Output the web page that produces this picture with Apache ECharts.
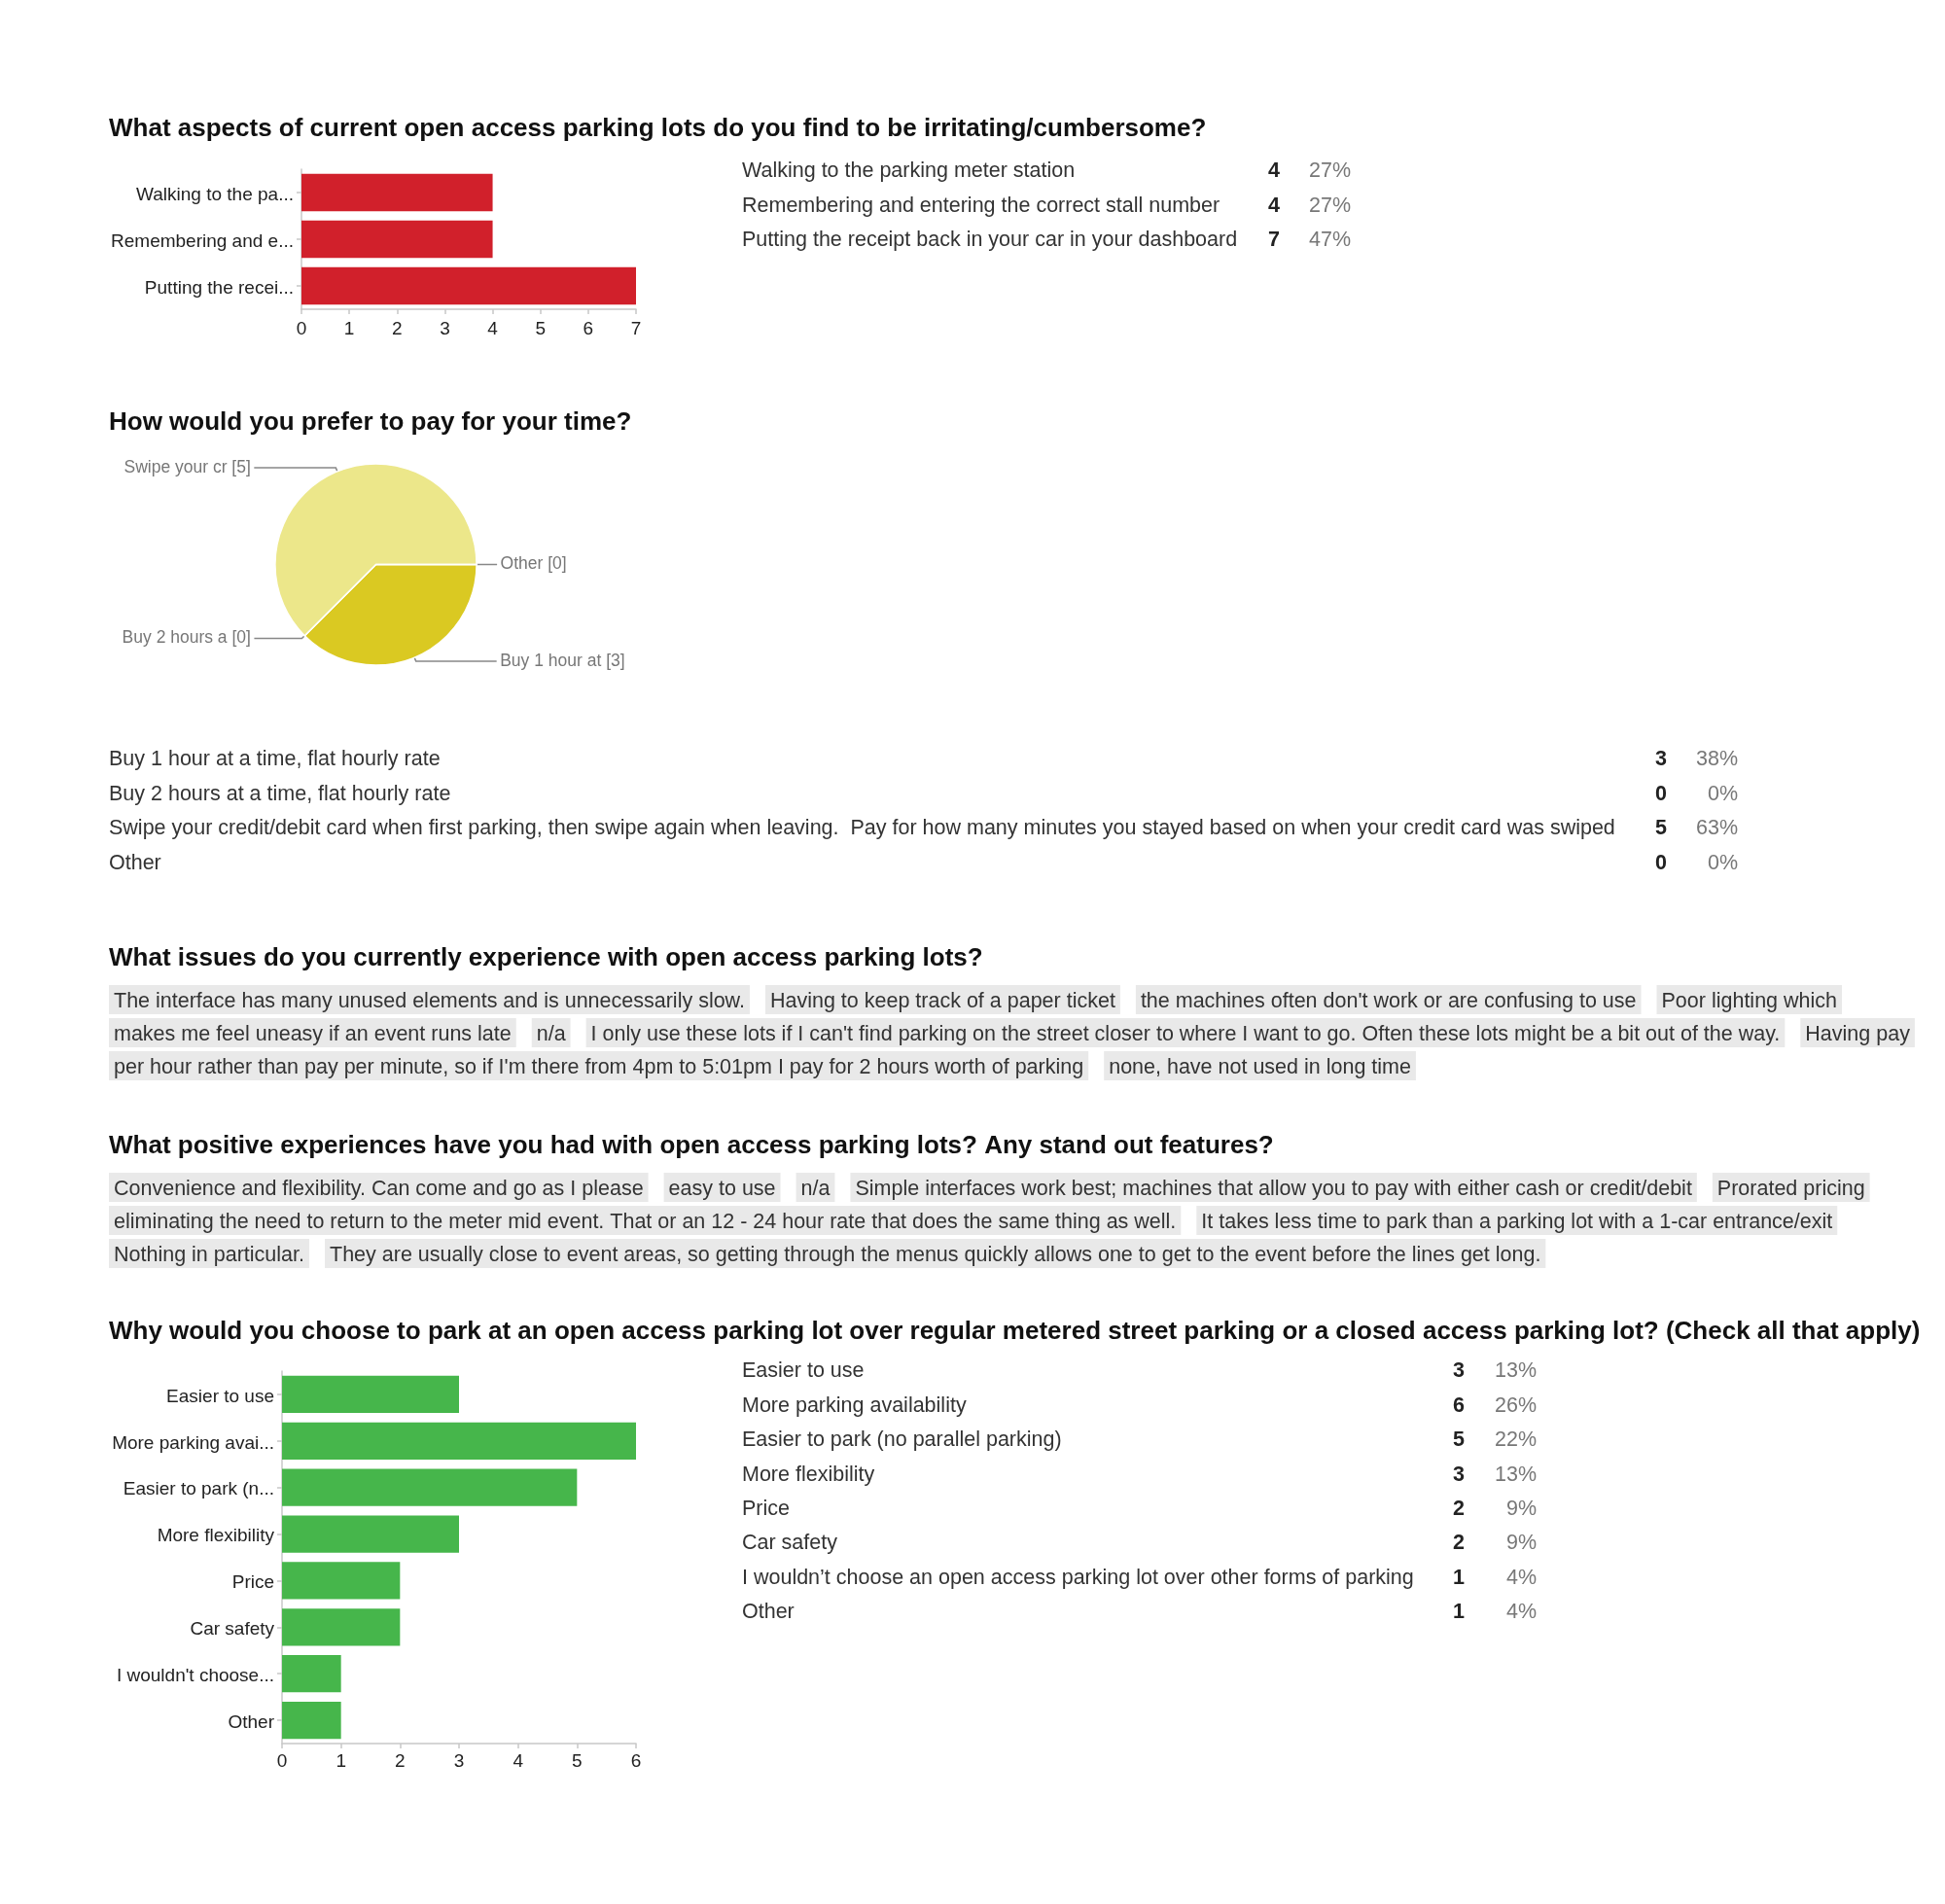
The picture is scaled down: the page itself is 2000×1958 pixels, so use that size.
<!DOCTYPE html>
<html><head><meta charset="utf-8">
<script src="https://cdn.jsdelivr.net/npm/echarts@6.0.0/dist/echarts.min.js"></script>
<style>html,body{margin:0;padding:0;background:#fff}#c{width:2000px;height:1958px}</style>
</head><body><div id="c"></div>
<script>
// ---------- DATA ----------
const q1Title = 'What aspects of current open access parking lots do you find to be irritating/cumbersome?';
const q1Options = ['Walking to the parking meter station', 'Remembering and entering the correct stall number', 'Putting the receipt back in your car in your dashboard'];
const q1AxisLabels = ['Walking to the pa...', 'Remembering and e...', 'Putting the recei...'];
const q1Counts = [4, 4, 7];
const q1Percents = ['27%', '27%', '47%'];

const q2Title = 'How would you prefer to pay for your time?';
const q2Options = ['Buy 1 hour at a time, flat hourly rate', 'Buy 2 hours at a time, flat hourly rate', 'Swipe your credit/debit card when first parking, then swipe again when leaving.  Pay for how many minutes you stayed based on when your credit card was swiped', 'Other'];
const q2PieLabels = ['Buy 1 hour at', 'Buy 2 hours a', 'Swipe your cr', 'Other'];
const q2Counts = [3, 0, 5, 0];
const q2Percents = ['38%', '0%', '63%', '0%'];

const q3Title = 'What issues do you currently experience with open access parking lots?';
const q3Lines = [
  ['The interface has many unused elements and is unnecessarily slow.', 'Having to keep track of a paper ticket', "the machines often don't work or are confusing to use", 'Poor lighting which'],
  ['makes me feel uneasy if an event runs late', 'n/a', "I only use these lots if I can't find parking on the street closer to where I want to go. Often these lots might be a bit out of the way.", 'Having pay'],
  ["per hour rather than pay per minute, so if I'm there from 4pm to 5:01pm I pay for 2 hours worth of parking", 'none, have not used in long time']
];

const q4Title = 'What positive experiences have you had with open access parking lots? Any stand out features?';
const q4Lines = [
  ['Convenience and flexibility. Can come and go as I please', 'easy to use', 'n/a', 'Simple interfaces work best; machines that allow you to pay with either cash or credit/debit', 'Prorated pricing'],
  ['eliminating the need to return to the meter mid event. That or an 12 - 24 hour rate that does the same thing as well.', 'It takes less time to park than a parking lot with a 1-car entrance/exit'],
  ['Nothing in particular.', 'They are usually close to event areas, so getting through the menus quickly allows one to get to the event before the lines get long.']
];

const q5Title = 'Why would you choose to park at an open access parking lot over regular metered street parking or a closed access parking lot? (Check all that apply)';
const q5Options = ['Easier to use', 'More parking availability', 'Easier to park (no parallel parking)', 'More flexibility', 'Price', 'Car safety', "I wouldn\u2019t choose an open access parking lot over other forms of parking", 'Other'];
const q5AxisLabels = ['Easier to use', 'More parking avai...', 'Easier to park (n...', 'More flexibility', 'Price', 'Car safety', "I wouldn't choose...", 'Other'];
const q5Counts = [3, 6, 5, 3, 2, 2, 1, 1];
const q5Percents = ['13%', '26%', '22%', '13%', '9%', '9%', '4%', '4%'];

// ---------- STYLE ----------
const FAM = '"Liberation Sans", Arial, sans-serif';
const BODY = '21.5px ' + FAM;
const BOLD_BODY = 'bold 21.5px ' + FAM;
const TITLE = 'bold 26px ' + FAM;
const AXIS_FONT = '19px ' + FAM;
const TY = 2.5; // text baseline nudge
const CHIP_PAD = 5, CHIP_GAP = 16, CHIP_H = 30, LINE_PITCH = 34;

const mctx = document.createElement('canvas').getContext('2d');
function measure(text, font) { mctx.font = font; return mctx.measureText(text).width; }

function txt(x, y, text, font, fill, align) {
  return { type: 'text', x: x, y: y + TY, silent: true, z: 10,
    style: { text: text, font: font || BODY, fill: fill || '#333', textAlign: align || 'left', textVerticalAlign: 'middle' } };
}

function table(options, counts, pcts, x, y0, countX, pctX, pitch) {
  const els = [];
  options.forEach((o, i) => {
    const y = y0 + i * pitch;
    els.push(txt(x, y, o, BODY, '#333', 'left'));
    els.push(txt(countX, y, String(counts[i]), BOLD_BODY, '#222', 'center'));
    els.push(txt(pctX, y, pcts[i], BODY, '#777', 'right'));
  });
  return els;
}

function chips(lines, y0) {
  const els = [];
  lines.forEach((line, li) => {
    let x = 112;
    const y = y0 + li * LINE_PITCH;
    line.forEach(s => {
      const w = measure(s, BODY) + 2 * CHIP_PAD;
      els.push({ type: 'rect', silent: true, z: 5, shape: { x: x, y: y - CHIP_H / 2, width: w, height: CHIP_H }, style: { fill: '#e9e9e9' } });
      els.push(txt(x + CHIP_PAD, y, s, BODY, '#333', 'left'));
      x += w + CHIP_GAP;
    });
  });
  return els;
}

const graphics = [].concat(
  [txt(112, 130, q1Title, TITLE, '#111')],
  table(q1Options, q1Counts, q1Percents, 763, 173.5, 1310, 1389, 35.7),
  [txt(112, 432, q2Title, TITLE, '#111')],
  table(q2Options, q2Counts, q2Percents, 112, 779, 1708, 1787, 35.4),
  [txt(112, 983, q3Title, TITLE, '#111')],
  chips(q3Lines, 1028),
  [txt(112, 1176, q4Title, TITLE, '#111')],
  chips(q4Lines, 1221),
  [txt(112, 1367, q5Title, TITLE, '#111')],
  table(q5Options, q5Counts, q5Percents, 763, 1408, 1500, 1580, 35.4)
);

const axisLabelStyle = { fontSize: 19, color: '#222', fontFamily: FAM };
function valueAxis(grid, max, margin) {
  return { type: 'value', gridIndex: grid, min: 0, max: max, interval: 1,
    axisLine: { show: true, lineStyle: { color: '#c8c8c8', width: 1.5 } },
    axisTick: { show: true, length: 5, lineStyle: { color: '#c8c8c8', width: 1.5 } },
    splitLine: { show: false },
    axisLabel: Object.assign({ margin: margin }, axisLabelStyle) };
}
function catAxis(grid, labels) {
  return { type: 'category', gridIndex: grid, data: labels, inverse: true,
    axisLine: { show: true, lineStyle: { color: '#c8c8c8', width: 1.5 } },
    axisTick: { show: true, alignWithLabel: true, length: 5, lineStyle: { color: '#c8c8c8', width: 1.5 } },
    splitLine: { show: false },
    axisLabel: { show: false } };
}

const pieLen2 = [83, 49, 84, 17];
const pieColors = ['#dac922', '#e4d84a', '#ece78a', '#f2ed9e'];

const option = {
  animation: false,
  backgroundColor: '#ffffff',
  grid: [
    { left: 310, top: 174, width: 344, height: 144 },
    { left: 290, top: 1410, width: 364, height: 383 }
  ],
  xAxis: [valueAxis(0, 7, 11.5), valueAxis(1, 6, 9.5)],
  yAxis: [catAxis(0, q1AxisLabels), catAxis(1, q5AxisLabels)],
  series: [
    { type: 'bar', xAxisIndex: 0, yAxisIndex: 0, data: q1Counts, barCategoryGap: '20%',
      itemStyle: { color: '#d1202b' }, silent: true },
    { type: 'bar', xAxisIndex: 1, yAxisIndex: 1, data: q5Counts, barCategoryGap: '20%',
      itemStyle: { color: '#46b64b' }, silent: true },
    { type: 'pie', center: [386.5, 580.5], radius: 103.6, startAngle: 0, clockwise: true,
      avoidLabelOverlap: false, silent: true,
      itemStyle: { borderColor: '#ffffff', borderWidth: 1.5 },
      label: { show: true, position: 'outside', formatter: '{b} [{c}]', fontSize: 17.5, color: '#777', fontFamily: FAM, distanceToLabelLine: 3.5, padding: [9, 0, 0, 0] },
      labelLine: { show: true, length: 4, smooth: false, lineStyle: { color: '#888', width: 1.5 } },
      data: q2PieLabels.map((n, i) => ({ name: n, value: q2Counts[i], itemStyle: { color: pieColors[i] }, labelLine: { length2: pieLen2[i] } }))
    }
  ],
  graphic: graphics
};

const chart = echarts.init(document.getElementById('c'), null, { renderer: 'canvas', width: 2000, height: 1958 });
chart.setOption(option);

// category tick labels placed at the category axis positions
function catLabels(gridIndex, labels) {
  return labels.map((l, i) => {
    const p = chart.convertToPixel({ gridIndex: gridIndex }, [0, i]);
    return txt(p[0] - 8, p[1], l, AXIS_FONT, '#222', 'right');
  });
}
chart.setOption({ graphic: graphics.concat(catLabels(0, q1AxisLabels), catLabels(1, q5AxisLabels)) });
</script>
</body></html>
